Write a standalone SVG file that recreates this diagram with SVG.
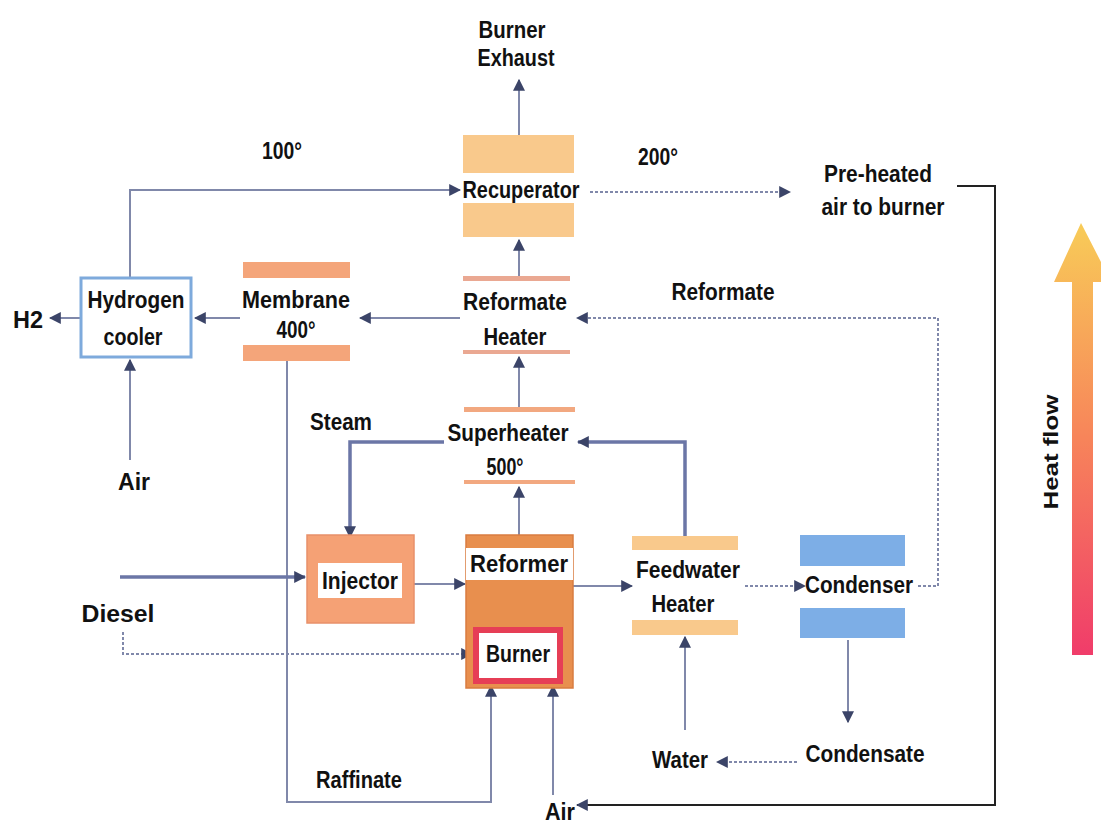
<svg xmlns="http://www.w3.org/2000/svg" width="1101" height="825" viewBox="0 0 1101 825">
<defs>
<marker id="ahb" viewBox="0 0 10 10" refX="9" refY="5" markerWidth="12" markerHeight="12" orient="auto" markerUnits="userSpaceOnUse">
<path d="M0,0 L10,5 L0,10 z" fill="#3b4468"/>
</marker>
<linearGradient id="heat" x1="0" y1="1" x2="0" y2="0">
<stop offset="0" stop-color="#f03c6a"/>
<stop offset="0.5" stop-color="#f7845a"/>
<stop offset="1" stop-color="#f8cc58"/>
</linearGradient>
<style>
text{font-family:"Liberation Sans",Arial,sans-serif;font-weight:bold;font-size:23px;fill:#111;text-anchor:middle}
.c{fill:none;stroke:#8088aa;stroke-width:2}
.t{fill:none;stroke:#6b76a6;stroke-width:3.5}
.d{fill:none;stroke:#8088aa;stroke-width:2;stroke-dasharray:3 2}
.k{fill:none;stroke:#222;stroke-width:2}
.peach{fill:#f9c98c}
.salmon{fill:#f4a57a}
.lbl{fill:#fff}
</style>
</defs>
<rect width="1101" height="825" fill="#fff"/>

<g id="connectors">
<path class="c" d="M519,135 V80" marker-end="url(#ahb)"/>
<path class="c" d="M130,277 V190 H460" marker-end="url(#ahb)"/>
<path class="d" d="M590,192 H790" marker-end="url(#ahb)"/>
<path class="k" d="M957,186 H995 V805 H577" marker-end="url(#ahb)"/>
<path class="c" d="M519,276 V240" marker-end="url(#ahb)"/>
<path class="d" d="M918,586 H938 V318 H577" marker-end="url(#ahb)"/>
<path class="c" d="M460,318 H360" marker-end="url(#ahb)"/>
<path class="c" d="M240,318 H195" marker-end="url(#ahb)"/>
<path class="c" d="M80,318 H50" marker-end="url(#ahb)"/>
<path class="c" d="M130,460 V360" marker-end="url(#ahb)"/>
<path class="c" d="M287,361 V802 H491 V686" marker-end="url(#ahb)"/>
<path class="c" d="M519,407 V357" marker-end="url(#ahb)"/>
<path class="t" d="M444,442 H350 V537" marker-end="url(#ahb)"/>
<path class="t" d="M685,537 V442 H578" marker-end="url(#ahb)"/>
<path class="c" d="M519,535 V487" marker-end="url(#ahb)"/>
<path class="t" d="M120,577 H305" marker-end="url(#ahb)"/>
<path class="d" d="M123,632 V654 H472" marker-end="url(#ahb)"/>
<path class="c" d="M414,584 H465" marker-end="url(#ahb)"/>
<path class="c" d="M573,586 H632" marker-end="url(#ahb)"/>
<path class="d" d="M745,586 H805" marker-end="url(#ahb)"/>
<path class="c" d="M848,640 V722" marker-end="url(#ahb)"/>
<path class="d" d="M797,762 H717" marker-end="url(#ahb)"/>
<path class="c" d="M685,730 V637" marker-end="url(#ahb)"/>
<path class="c" d="M553,795 V686" marker-end="url(#ahb)"/>
</g>

<g id="recuperator">
<rect class="peach" x="463" y="135" width="111" height="102"/>
<rect class="lbl" x="461" y="173" width="121" height="30"/>
<text x="521" y="198" textLength="117" lengthAdjust="spacingAndGlyphs">Recuperator</text>
</g>

<g id="reformate-heater">
<rect x="463" y="276" width="107" height="5" fill="#eaa892"/>
<rect x="463" y="350" width="107" height="4" fill="#eaa892"/>
<text x="515" y="310" textLength="104" lengthAdjust="spacingAndGlyphs">Reformate</text>
<text x="515" y="345" textLength="63" lengthAdjust="spacingAndGlyphs">Heater</text>
</g>

<g id="membrane">
<rect class="salmon" x="243" y="262" width="107" height="16"/>
<rect class="salmon" x="243" y="345" width="107" height="16"/>
<text x="296" y="308" textLength="108" lengthAdjust="spacingAndGlyphs">Membrane</text>
<text x="296" y="338" textLength="39" lengthAdjust="spacingAndGlyphs">400°</text>
</g>

<g id="hydrogen-cooler">
<rect x="81" y="278" width="110" height="79" fill="#fff" stroke="#7eaadc" stroke-width="3"/>
<text x="136" y="308" textLength="97" lengthAdjust="spacingAndGlyphs">Hydrogen</text>
<text x="133" y="345" textLength="59" lengthAdjust="spacingAndGlyphs">cooler</text>
</g>

<g id="superheater">
<rect x="464" y="407" width="111" height="5" fill="#f2a880"/>
<rect x="464" y="480" width="111" height="4" fill="#f2a880"/>
<text x="508" y="441" textLength="121" lengthAdjust="spacingAndGlyphs">Superheater</text>
<text x="505" y="475" textLength="37" lengthAdjust="spacingAndGlyphs">500°</text>
</g>

<g id="injector">
<rect x="307" y="535" width="107" height="88" fill="#f5a175" stroke="#e8906a" stroke-width="1.5"/>
<rect class="lbl" x="318" y="563" width="84" height="35"/>
<text x="360" y="589" textLength="76" lengthAdjust="spacingAndGlyphs">Injector</text>
</g>

<g id="reformer">
<rect x="466" y="535" width="107" height="153" fill="#e88f4e" stroke="#d97c40" stroke-width="1.5"/>
<rect class="lbl" x="466" y="548" width="107" height="32"/>
<text x="519" y="572" textLength="98" lengthAdjust="spacingAndGlyphs">Reformer</text>
</g>

<g id="burner">
<rect x="476" y="630" width="84" height="51" fill="#fff" stroke="#e63e56" stroke-width="6"/>
<text x="518" y="662" textLength="64" lengthAdjust="spacingAndGlyphs">Burner</text>
</g>

<g id="feedwater-heater">
<rect class="peach" x="632" y="536" width="106" height="14"/>
<rect class="peach" x="632" y="620" width="106" height="15"/>
<text x="688" y="578" textLength="104" lengthAdjust="spacingAndGlyphs">Feedwater</text>
<text x="683" y="612" textLength="63" lengthAdjust="spacingAndGlyphs">Heater</text>
</g>

<g id="condenser">
<rect x="800" y="535" width="105" height="31" fill="#7daee6"/>
<rect x="800" y="608" width="105" height="30" fill="#7daee6"/>
<text x="859" y="593" textLength="108" lengthAdjust="spacingAndGlyphs">Condenser</text>
</g>

<g id="labels">
<text x="512" y="38" textLength="67" lengthAdjust="spacingAndGlyphs">Burner</text>
<text x="516" y="66" textLength="77" lengthAdjust="spacingAndGlyphs">Exhaust</text>
<text x="282" y="159" textLength="40" lengthAdjust="spacingAndGlyphs">100°</text>
<text x="658" y="165" textLength="40" lengthAdjust="spacingAndGlyphs">200°</text>
<text x="878" y="182" textLength="108" lengthAdjust="spacingAndGlyphs">Pre-heated</text>
<text x="883" y="215" textLength="123" lengthAdjust="spacingAndGlyphs">air to burner</text>
<text x="723" y="300" textLength="103" lengthAdjust="spacingAndGlyphs">Reformate</text>
<text x="28" y="328" textLength="30" lengthAdjust="spacingAndGlyphs">H2</text>
<text x="134" y="490" textLength="32" lengthAdjust="spacingAndGlyphs">Air</text>
<text x="341" y="430" textLength="62" lengthAdjust="spacingAndGlyphs">Steam</text>
<text x="118" y="622" textLength="73" lengthAdjust="spacingAndGlyphs">Diesel</text>
<text x="359" y="788" textLength="86" lengthAdjust="spacingAndGlyphs">Raffinate</text>
<text x="560" y="820" textLength="30" lengthAdjust="spacingAndGlyphs">Air</text>
<text x="680" y="768" textLength="56" lengthAdjust="spacingAndGlyphs">Water</text>
<text x="865" y="762" textLength="119" lengthAdjust="spacingAndGlyphs">Condensate</text>
</g>

<g id="heat-flow">
<path d="M1072,655 V282 H1054 L1081,223 L1101,262 V282 H1093 V655 z" fill="url(#heat)"/>
<text transform="translate(1058,452) rotate(-90)" style="font-size:20px" textLength="115" lengthAdjust="spacingAndGlyphs">Heat flow</text>
</g>
</svg>
